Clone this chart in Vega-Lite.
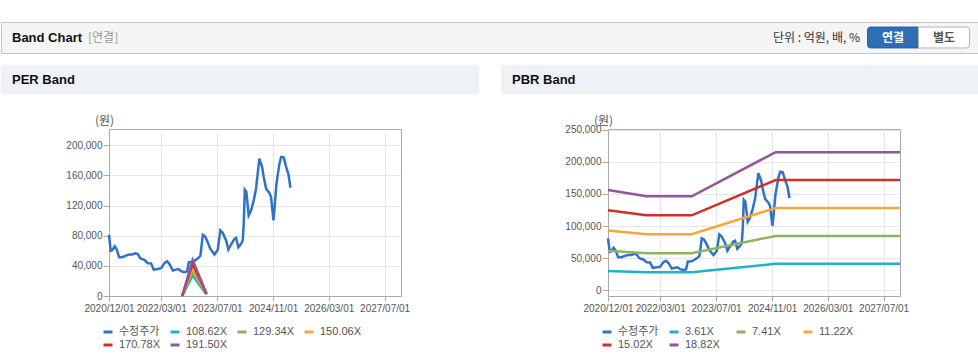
{
  "$schema": "https://vega.github.io/schema/vega-lite/v6.json",
  "background": "#ffffff",
  "padding": {"top": 21, "left": 0, "right": 0, "bottom": 0},
  "spacing": 11,
  "config": {
    "font": "Liberation Sans",
    "view": {"stroke": "#aaaaaa"},
    "axis": {"labelFont": "Liberation Sans", "labelFontSize": 10, "labelColor": "#555555", "tickColor": "#aaaaaa", "domainColor": "#aaaaaa", "gridColor": "#e6e6e6", "tickSize": 5, "labelPadding": 2, "titleFont": "Noto Sans CJK KR", "titleFontWeight": "normal", "titleFontSize": 12, "titleColor": "#555555"},
    "axisY": {"tickSize": 6, "labelPadding": 1},
    "legend": {"orient": "none", "direction": "horizontal", "legendX": -7, "legendY": 197, "columns": 4, "symbolType": "stroke", "symbolSize": 80, "symbolStrokeWidth": 3, "labelFont": "Liberation Sans, 'Noto Sans CJK KR'", "labelFontSize": 11, "labelColor": "#555555", "labelOffset": 5, "columnPadding": 4, "rowPadding": 1, "gridAlign": "all", "padding": 0}
  },
  "datasets": {
    "price": [
      {"date": "2020-12-01", "value": 81000}, {"date": "2020-12-16", "value": 60000}, {"date": "2020-12-30", "value": 61000},
      {"date": "2021-01-20", "value": 66000}, {"date": "2021-02-07", "value": 61500}, {"date": "2021-02-27", "value": 51500},
      {"date": "2021-03-28", "value": 51500}, {"date": "2021-04-27", "value": 53500}, {"date": "2021-05-26", "value": 55000},
      {"date": "2021-06-24", "value": 55000}, {"date": "2021-07-15", "value": 56700}, {"date": "2021-08-07", "value": 56000},
      {"date": "2021-08-31", "value": 50000}, {"date": "2021-10-05", "value": 48000}, {"date": "2021-11-04", "value": 43500},
      {"date": "2021-12-03", "value": 43300}, {"date": "2021-12-26", "value": 35000}, {"date": "2022-01-31", "value": 35800},
      {"date": "2022-03-01", "value": 36800}, {"date": "2022-03-30", "value": 44000}, {"date": "2022-04-22", "value": 46000},
      {"date": "2022-05-12", "value": 42500}, {"date": "2022-06-10", "value": 33800}, {"date": "2022-07-09", "value": 35000},
      {"date": "2022-07-30", "value": 35800}, {"date": "2022-08-22", "value": 32800}, {"date": "2022-09-14", "value": 31500},
      {"date": "2022-10-13", "value": 32500}, {"date": "2022-10-28", "value": 44800}, {"date": "2022-11-17", "value": 44800},
      {"date": "2022-12-10", "value": 45700}, {"date": "2022-12-31", "value": 48300}, {"date": "2023-01-20", "value": 50500},
      {"date": "2023-02-06", "value": 53500}, {"date": "2023-02-27", "value": 81000}, {"date": "2023-03-19", "value": 79000},
      {"date": "2023-04-11", "value": 71400}, {"date": "2023-05-04", "value": 62500}, {"date": "2023-06-08", "value": 55000},
      {"date": "2023-07-07", "value": 61200}, {"date": "2023-07-30", "value": 87000}, {"date": "2023-08-19", "value": 83800},
      {"date": "2023-09-18", "value": 73600}, {"date": "2023-10-08", "value": 61600}, {"date": "2023-10-31", "value": 68300},
      {"date": "2023-11-29", "value": 75800}, {"date": "2023-12-14", "value": 77000}, {"date": "2024-01-03", "value": 64700},
      {"date": "2024-01-27", "value": 69200}, {"date": "2024-02-10", "value": 73600}, {"date": "2024-02-19", "value": 96000},
      {"date": "2024-02-28", "value": 141000}, {"date": "2024-03-13", "value": 138000}, {"date": "2024-04-02", "value": 106800},
      {"date": "2024-04-23", "value": 113500}, {"date": "2024-05-16", "value": 126800}, {"date": "2024-06-05", "value": 142300},
      {"date": "2024-07-04", "value": 182200}, {"date": "2024-07-28", "value": 171000}, {"date": "2024-08-11", "value": 157800},
      {"date": "2024-09-01", "value": 142300}, {"date": "2024-09-30", "value": 136500}, {"date": "2024-10-14", "value": 131200},
      {"date": "2024-11-04", "value": 100200}, {"date": "2024-11-13", "value": 115700}, {"date": "2024-11-30", "value": 149000},
      {"date": "2024-12-26", "value": 175500}, {"date": "2025-01-10", "value": 184400}, {"date": "2025-02-02", "value": 183500},
      {"date": "2025-02-23", "value": 171000}, {"date": "2025-03-15", "value": 161400}, {"date": "2025-04-01", "value": 143600}
    ],
    "per": [
      {"date": "2022-08-31", "series": "108.62X", "value": 0}, {"date": "2022-11-30", "series": "108.62X", "value": 27100}, {"date": "2023-03-31", "series": "108.62X", "value": 2000},
      {"date": "2022-08-31", "series": "129.34X", "value": 0}, {"date": "2022-11-30", "series": "129.34X", "value": 32300}, {"date": "2023-03-31", "series": "129.34X", "value": 2400},
      {"date": "2022-08-31", "series": "150.06X", "value": 0}, {"date": "2022-11-30", "series": "150.06X", "value": 37400}, {"date": "2023-03-31", "series": "150.06X", "value": 2700},
      {"date": "2022-08-31", "series": "170.78X", "value": 0}, {"date": "2022-11-30", "series": "170.78X", "value": 42600}, {"date": "2023-03-31", "series": "170.78X", "value": 3100},
      {"date": "2022-08-31", "series": "191.50X", "value": 0}, {"date": "2022-11-30", "series": "191.50X", "value": 47800}, {"date": "2023-03-31", "series": "191.50X", "value": 3500}
    ],
    "pbr": [
      {"date": "2020-12-01", "series": "3.61X", "value": 29963}, {"date": "2021-11-01", "series": "3.61X", "value": 28064}, {"date": "2022-12-01", "series": "3.61X", "value": 28064}, {"date": "2024-12-01", "series": "3.61X", "value": 41241}, {"date": "2027-11-21", "series": "3.61X", "value": 41241},
      {"date": "2020-12-01", "series": "7.41X", "value": 61503}, {"date": "2021-11-01", "series": "7.41X", "value": 57605}, {"date": "2022-12-01", "series": "7.41X", "value": 57605}, {"date": "2024-12-01", "series": "7.41X", "value": 84652}, {"date": "2027-11-21", "series": "7.41X", "value": 84652},
      {"date": "2020-12-01", "series": "11.22X", "value": 93126}, {"date": "2021-11-01", "series": "11.22X", "value": 87224}, {"date": "2022-12-01", "series": "11.22X", "value": 87224}, {"date": "2024-12-01", "series": "11.22X", "value": 128177}, {"date": "2027-11-21", "series": "11.22X", "value": 128177},
      {"date": "2020-12-01", "series": "15.02X", "value": 124666}, {"date": "2021-11-01", "series": "15.02X", "value": 116765}, {"date": "2022-12-01", "series": "15.02X", "value": 116765}, {"date": "2024-12-01", "series": "15.02X", "value": 171588}, {"date": "2027-11-21", "series": "15.02X", "value": 171588},
      {"date": "2020-12-01", "series": "18.82X", "value": 156206}, {"date": "2021-11-01", "series": "18.82X", "value": 146307}, {"date": "2022-12-01", "series": "18.82X", "value": 146307}, {"date": "2024-12-01", "series": "18.82X", "value": 214999}, {"date": "2027-11-21", "series": "18.82X", "value": 214999}
    ]
  },
  "vconcat": [
    {
      "width": 978,
      "height": 31,
      "view": {"fill": "#f5f5f5", "stroke": "#c4c4c4"},
      "resolve": {"scale": {"x": "independent"}},
      "layer": [
        {
          "data": {"values": [{"label": "Band Chart"}]},
          "mark": {"type": "text", "align": "left", "baseline": "middle", "font": "Liberation Sans", "fontSize": 13, "fontWeight": "bold", "color": "#111111"},
          "encoding": {"x": {"field": "label", "type": "nominal", "scale": {"type": "point", "domain": ["Band Chart"], "range": [11, 11]}, "axis": null}, "text": {"field": "label"}}
        },
        {
          "data": {"values": [{"label": "[연결]"}]},
          "mark": {"type": "text", "align": "left", "baseline": "middle", "font": "Noto Sans CJK KR", "fontSize": 12, "color": "#999999"},
          "encoding": {"x": {"field": "label", "type": "nominal", "scale": {"type": "point", "domain": ["[연결]"], "range": [87, 87]}, "axis": null}, "text": {"field": "label"}}
        },
        {
          "data": {"values": [{"label": "단위 : 억원, 배, %"}]},
          "mark": {"type": "text", "align": "right", "baseline": "middle", "font": "Noto Sans CJK KR", "fontSize": 12, "color": "#333333"},
          "encoding": {"x": {"field": "label", "type": "nominal", "scale": {"type": "point", "domain": ["단위 : 억원, 배, %"], "range": [859, 859]}, "axis": null}, "text": {"field": "label"}}
        },
        {
          "data": {"values": [{"btn": "연결"}]},
          "mark": {"type": "point", "shape": "M-0.88,-0.41H1V0.41H-0.88Q-1,0.41,-1,0.29V-0.29Q-1,-0.41,-0.88,-0.41Z", "size": 2601, "filled": true, "fill": "#2f6db5", "stroke": "#2a62a5", "strokeWidth": 1, "opacity": 1},
          "encoding": {"x": {"field": "btn", "type": "nominal", "scale": {"type": "point", "domain": ["연결", "별도"], "range": [892, 943], "padding": 0}, "axis": null}}
        },
        {
          "data": {"values": [{"btn": "별도"}]},
          "mark": {"type": "point", "shape": "M-1,-0.41H0.88Q1,-0.41,1,-0.29V0.29Q1,0.41,0.88,0.41H-1Z", "size": 2601, "filled": true, "fill": "#ffffff", "stroke": "#b5b5b5", "strokeWidth": 1, "opacity": 1},
          "encoding": {"x": {"field": "btn", "type": "nominal", "scale": {"type": "point", "domain": ["연결", "별도"], "range": [892, 943], "padding": 0}, "axis": null}}
        },
        {
          "data": {"values": [{"btn": "연결"}]},
          "mark": {"type": "text", "align": "center", "baseline": "middle", "font": "Noto Sans CJK KR", "fontSize": 12, "fontWeight": "bold", "color": "#ffffff"},
          "encoding": {"x": {"field": "btn", "type": "nominal", "scale": {"type": "point", "domain": ["연결", "별도"], "range": [892, 943], "padding": 0}, "axis": null}, "text": {"field": "btn"}}
        },
        {
          "data": {"values": [{"btn": "별도"}]},
          "mark": {"type": "text", "align": "center", "baseline": "middle", "font": "Noto Sans CJK KR", "fontSize": 12, "fontWeight": "bold", "color": "#555555"},
          "encoding": {"x": {"field": "btn", "type": "nominal", "scale": {"type": "point", "domain": ["연결", "별도"], "range": [892, 943], "padding": 0}, "axis": null}, "text": {"field": "btn"}}
        }
      ]
    },
    {
      "hconcat": [
        {
          "vconcat": [
            {
              "width": 478,
              "height": 29,
              "view": {"fill": "#eef2f6", "stroke": null},
              "data": {"values": [{"label": "PER Band"}]},
              "mark": {"type": "text", "align": "left", "baseline": "middle", "font": "Liberation Sans", "fontSize": 13, "fontWeight": "bold", "color": "#111111"},
              "encoding": {"x": {"field": "label", "type": "nominal", "scale": {"type": "point", "domain": ["PER Band"], "range": [11, 11]}, "axis": null}, "text": {"field": "label"}}
            },
            {
              "hconcat": [
                {
                  "width": 108,
                  "height": 167,
                  "view": {"stroke": null},
                  "data": {"values": []},
                  "mark": "point"
                },
                {
                  "width": 292,
                  "height": 167,
                  "encoding": {
                    "x": {"field": "date", "type": "temporal", "scale": {"type": "utc", "domain": [{"year": 2020, "month": 12, "date": 1, "utc": true}, {"year": 2027, "month": 11, "date": 21, "utc": true}]}, "axis": {"values": [{"year": 2020, "month": 12, "date": 1, "utc": true}, {"year": 2022, "month": 3, "date": 1, "utc": true}, {"year": 2023, "month": 7, "date": 1, "utc": true}, {"year": 2024, "month": 11, "date": 1, "utc": true}, {"year": 2026, "month": 3, "date": 1, "utc": true}, {"year": 2027, "month": 7, "date": 1, "utc": true}], "labelExpr": "utcFormat(datum.value, '%Y/%m/%d')", "labelFlush": false, "labelOverlap": false, "title": null, "grid": true}},
                    "y": {"field": "value", "type": "quantitative", "scale": {"domain": [0, 221500], "nice": false, "zero": false}, "axis": {"values": [0, 40000, 80000, 120000, 160000, 200000], "format": ",d", "title": "(원)", "titleAngle": 0, "titleAlign": "center", "titleBaseline": "middle", "titleX": -5, "titleY": -9, "grid": true}}
                  },
                  "layer": [
                    {
                      "data": {"name": "price"},
                      "mark": {"type": "line", "strokeWidth": 2.5},
                      "encoding": {"color": {"datum": "수정주가", "type": "nominal", "scale": {"domain": ["수정주가", "108.62X", "129.34X", "150.06X", "170.78X", "191.50X"], "range": ["#2f72c6", "#1fb1c6", "#8db35c", "#f5a83a", "#d0302a", "#93559a"]}, "legend": {"title": null}}}
                    },
                    {
                      "data": {"name": "per"},
                      "mark": {"type": "line", "strokeWidth": 2.5},
                      "encoding": {"color": {"field": "series", "type": "nominal", "scale": {"domain": ["수정주가", "108.62X", "129.34X", "150.06X", "170.78X", "191.50X"], "range": ["#2f72c6", "#1fb1c6", "#8db35c", "#f5a83a", "#d0302a", "#93559a"]}, "legend": {"title": null}}}
                    }
                  ]
                }
              ],
              "spacing": 0,
              "bounds": "flush",
              "resolve": {"scale": {"color": "independent"}, "legend": {"color": "independent"}}
            }
          ],
          "spacing": 35,
          "bounds": "flush",
          "resolve": {"scale": {"color": "independent"}, "legend": {"color": "independent"}}
        },
        {
          "vconcat": [
            {
              "width": 478,
              "height": 29,
              "view": {"fill": "#eef2f6", "stroke": null},
              "data": {"values": [{"label": "PBR Band"}]},
              "mark": {"type": "text", "align": "left", "baseline": "middle", "font": "Liberation Sans", "fontSize": 13, "fontWeight": "bold", "color": "#111111"},
              "encoding": {"x": {"field": "label", "type": "nominal", "scale": {"type": "point", "domain": ["PBR Band"], "range": [11, 11]}, "axis": null}, "text": {"field": "label"}}
            },
            {
              "hconcat": [
                {
                  "width": 107,
                  "height": 167,
                  "view": {"stroke": null},
                  "data": {"values": []},
                  "mark": "point"
                },
                {
                  "width": 292,
                  "height": 167,
                  "encoding": {
                    "x": {"field": "date", "type": "temporal", "scale": {"type": "utc", "domain": [{"year": 2020, "month": 12, "date": 1, "utc": true}, {"year": 2027, "month": 11, "date": 21, "utc": true}]}, "axis": {"values": [{"year": 2020, "month": 12, "date": 1, "utc": true}, {"year": 2022, "month": 3, "date": 1, "utc": true}, {"year": 2023, "month": 7, "date": 1, "utc": true}, {"year": 2024, "month": 11, "date": 1, "utc": true}, {"year": 2026, "month": 3, "date": 1, "utc": true}, {"year": 2027, "month": 7, "date": 1, "utc": true}], "labelExpr": "utcFormat(datum.value, '%Y/%m/%d')", "labelFlush": false, "labelOverlap": false, "title": null, "grid": true}},
                    "y": {"field": "value", "type": "quantitative", "scale": {"domain": [-8900, 251100], "nice": false, "zero": false}, "axis": {"values": [0, 50000, 100000, 150000, 200000, 250000], "format": ",d", "title": "(원)", "titleAngle": 0, "titleAlign": "center", "titleBaseline": "middle", "titleX": -5, "titleY": -9, "grid": true}}
                  },
                  "layer": [
                    {
                      "data": {"name": "price"},
                      "mark": {"type": "line", "strokeWidth": 2.5},
                      "encoding": {"color": {"datum": "수정주가", "type": "nominal", "scale": {"domain": ["수정주가", "3.61X", "7.41X", "11.22X", "15.02X", "18.82X"], "range": ["#2f72c6", "#1fb1c6", "#8db35c", "#f5a83a", "#d0302a", "#93559a"]}, "legend": {"title": null}}}
                    },
                    {
                      "data": {"name": "pbr"},
                      "mark": {"type": "line", "strokeWidth": 2.5},
                      "encoding": {"color": {"field": "series", "type": "nominal", "scale": {"domain": ["수정주가", "3.61X", "7.41X", "11.22X", "15.02X", "18.82X"], "range": ["#2f72c6", "#1fb1c6", "#8db35c", "#f5a83a", "#d0302a", "#93559a"]}, "legend": {"title": null}}}
                    }
                  ]
                }
              ],
              "spacing": 0,
              "bounds": "flush",
              "resolve": {"scale": {"color": "independent"}, "legend": {"color": "independent"}}
            }
          ],
          "spacing": 35,
          "bounds": "flush",
          "resolve": {"scale": {"color": "independent"}, "legend": {"color": "independent"}}
        }
      ],
      "spacing": 22,
      "resolve": {"scale": {"color": "independent"}, "legend": {"color": "independent"}}
    }
  ]
}
